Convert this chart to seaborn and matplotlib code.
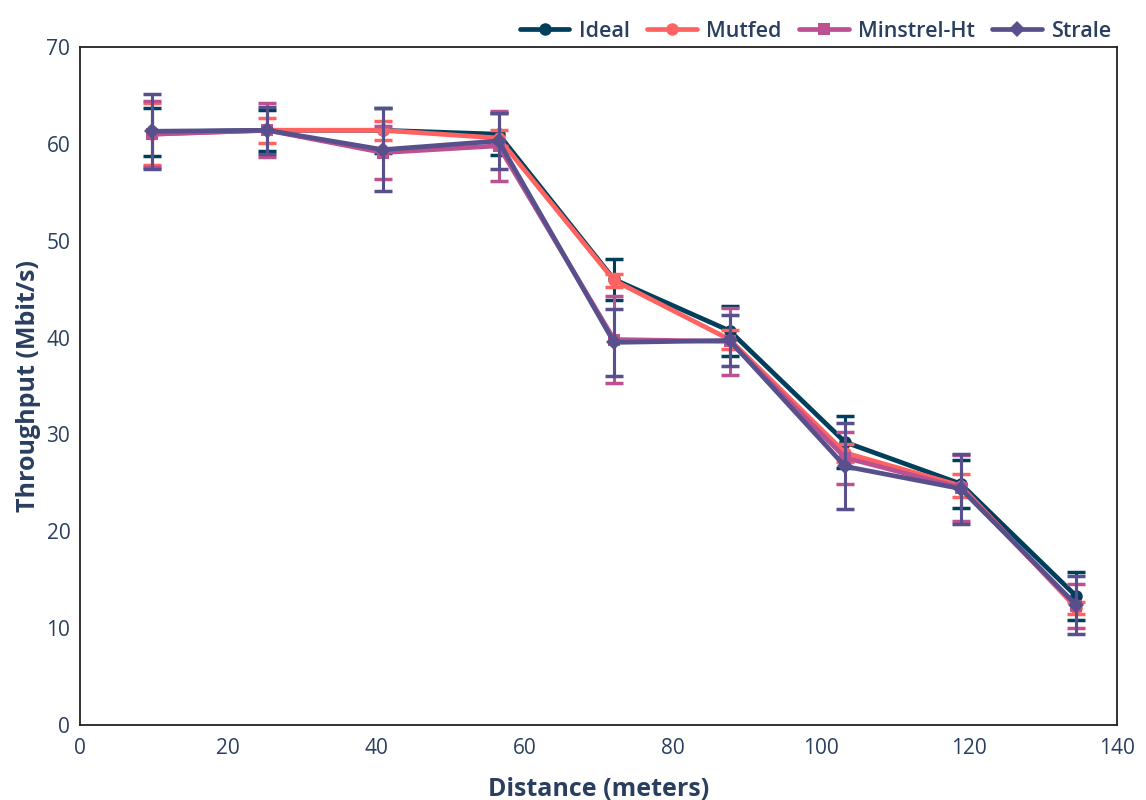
import numpy as np
import pandas as pd
import seaborn as sns
import matplotlib.pyplot as plt

distance = [9.7, 25.3, 40.9, 56.5, 72.1, 87.7, 103.3, 118.9, 134.5]
series = ["Ideal", "Mutfed", "Minstrel-Ht", "Strale"]

ideal = [61.2, 61.4, 61.4, 61.0, 46.0, 40.7, 29.2, 24.9, 13.3]
ideal_err = [2.5, 2.1, 2.3, 2.2, 2.1, 2.6, 2.7, 2.5, 2.45]
mutfed = [61.0, 61.4, 61.4, 60.6, 45.9, 39.8, 28.1, 24.7, 12.1]
mutfed_err = [3.2, 1.3, 1.0, 0.8, 0.7, 1.0, 0.9, 1.2, 0.6]
minstrel = [61.0, 61.4, 59.1, 59.8, 39.8, 39.6, 27.6, 24.5, 12.3]
minstrel_err = [3.4, 2.8, 2.7, 3.6, 4.5, 3.45, 2.7, 3.4, 2.3]
strale = [61.3, 61.4, 59.4, 60.3, 39.5, 39.7, 26.7, 24.4, 12.4]
strale_err = [3.85, 2.4, 4.3, 2.9, 3.5, 2.65, 4.45, 3.6, 3.0]

colors = ["#003f5c", "#ff6361", "#bc5090", "#58508d"]
markers = ["o", "o", "s", "D"]

df = pd.DataFrame({
    "Distance": distance * 4,
    "Throughput": ideal + mutfed + minstrel + strale,
    "Err": ideal_err + mutfed_err + minstrel_err + strale_err,
    "Series": [s for s in series for _ in distance],
})

sns.set_style("white")
plt.rcParams['font.family'] = ['Open Sans', 'DejaVu Sans']
text_col = "#2a3f5f"

fig = plt.figure(figsize=(11.46, 8), dpi=100)
ax = fig.add_axes([0.0698, 0.09375, 0.9049, 0.8475])

for i, s in enumerate(series):
    d = df[df["Series"] == s]
    ax.errorbar(d["Distance"], d["Throughput"], yerr=d["Err"], fmt="none",
                ecolor=colors[i], elinewidth=2.2, capsize=6.5, capthick=2.5,
                zorder=2 + i)
    sns.lineplot(data=d, x="Distance", y="Throughput", color=colors[i],
                 marker=markers[i], markersize=9 if markers[i] != "D" else 8,
                 markeredgewidth=0, linewidth=3.4, label=s, ax=ax,
                 zorder=2.5 + i)

ax.set_xlim(0, 140)
ax.set_ylim(0, 70)
ax.set_xticks(np.arange(0, 141, 20))
ax.set_yticks(np.arange(0, 71, 10))
ax.tick_params(axis="both", labelsize=15, colors=text_col, length=0)
ax.tick_params(axis="x", pad=9)
ax.tick_params(axis="y", pad=7)
for sp in ax.spines.values():
    sp.set_color("#222222")
    sp.set_linewidth(1.3)
ax.set_xlabel("Distance (meters)", fontsize=18, fontweight="bold",
              color=text_col, labelpad=13)
ax.set_ylabel("Throughput (Mbit/s)", fontsize=18, fontweight="bold",
              color=text_col, labelpad=4)

leg = ax.legend(loc="lower right", bbox_to_anchor=(1.0, 1.0), ncol=4,
                frameon=False, fontsize=15.5, handlelength=2.3,
                columnspacing=0.8, handletextpad=0.45, borderaxespad=0.15,
                borderpad=0.1)
for t in leg.get_texts():
    t.set_color(text_col)
    t.set_fontweight("semibold")

fig.savefig("out.png", dpi=100)
